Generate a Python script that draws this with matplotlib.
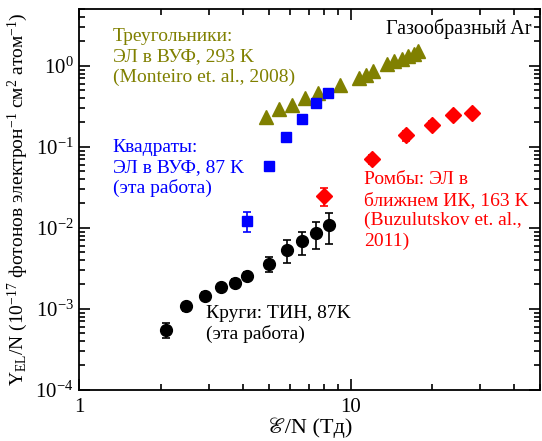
import matplotlib

matplotlib.use("Agg")

import matplotlib.pyplot as plt
from matplotlib.ticker import LogLocator, NullFormatter, LogFormatterMathtext

plt.rcParams["font.family"] = ["Liberation Serif", "STIXGeneral", "DejaVu Serif"]
plt.rcParams["mathtext.fontset"] = "custom"
plt.rcParams["mathtext.rm"] = "Liberation Serif"
plt.rcParams["mathtext.it"] = "Liberation Serif:italic"
plt.rcParams["mathtext.bf"] = "Liberation Serif:bold"

# Circles: TIN, 87 K (this work)
circ_x = [2.09, 2.48, 2.92, 3.34, 3.75, 4.15, 4.99, 5.83, 6.64, 7.47, 8.3]
circ_y = [5.5e-4, 1.07e-3, 1.45e-3, 1.85e-3, 2.1e-3, 2.55e-3, 3.6e-3, 5.4e-3, 6.8e-3, 8.7e-3, 1.08e-2]
circ_err = [1.1e-4, 1.2e-4, 1.5e-4, 1.7e-4, 2.2e-4, 2.8e-4, 7.5e-4, 1.7e-3, 2.2e-3, 3.2e-3, 4.4e-3]

# Squares: EL in VUV, 87 K (this work)
sq_x = [4.15, 4.99, 5.79, 6.64, 7.47, 8.28]
sq_y = [1.22e-2, 5.8e-2, 0.133, 0.218, 0.344, 0.457]
sq_err = [3.3e-3, 5e-3, 0.01, 0.015, 0.02, 0.02]

# Triangles: EL in VUV, 293 K (Monteiro 2008)
tri_x = [4.86, 5.47, 6.1, 6.8, 7.58, 9.12, 10.7, 11.4, 12.1, 13.6, 14.5, 15.4, 16.3, 17.1, 17.7]
tri_y = [0.231, 0.29, 0.33, 0.396, 0.457, 0.578, 0.70, 0.77, 0.86, 1.04, 1.14, 1.23, 1.33, 1.42, 1.53]

# Diamonds: EL in NIR, 163 K (Buzulutskov 2011)
dia_x = [7.99, 11.95, 16.0, 19.9, 23.9, 28.1]
dia_y = [2.47e-2, 7.07e-2, 0.139, 0.186, 0.245, 0.259]
dia_err = [6e-3, 9e-3, 0.02, 0.022, 0.025, 0.025]

OLIVE = "#808000"
BLUE = "#0000ff"
RED = "#ff0000"

fig = plt.figure(figsize=(5.42, 4.41), dpi=100)
ax = fig.add_axes([0.146, 0.116, 0.851, 0.863])

ekw = dict(elinewidth=1.2, capsize=3, capthick=1.2, linestyle="none")
ax.errorbar(circ_x, circ_y, yerr=circ_err, fmt="o", color="black", ms=8.5, **ekw)
ax.errorbar(sq_x, sq_y, yerr=sq_err, fmt="s", color=BLUE, ms=7.5, **ekw)
ax.plot(tri_x, tri_y, "^", color=OLIVE, ms=10, linestyle="none")
ax.errorbar(dia_x, dia_y, yerr=dia_err, fmt="D", color=RED, ms=8, **ekw)

ax.set_xscale("log")
ax.set_yscale("log")
ax.set_xlim(1, 50)
ax.set_ylim(1e-4, 5)

ax.set_xticks([1, 10], ["1", "10"])
ax.xaxis.set_minor_locator(LogLocator(base=10, subs=range(2, 10)))
ax.xaxis.set_minor_formatter(NullFormatter())
ax.yaxis.set_major_locator(LogLocator(base=10, numticks=10))
ax.yaxis.set_major_formatter(LogFormatterMathtext())
ax.yaxis.set_minor_locator(LogLocator(base=10, subs=range(2, 10), numticks=20))
ax.yaxis.set_minor_formatter(NullFormatter())

ax.tick_params(which="both", direction="in", top=True, right=True, labelsize=15, width=1.2)
ax.tick_params(which="major", length=8, pad=6)
ax.tick_params(axis="y", which="major", pad=4)
ax.tick_params(which="minor", length=4.5)
for s in ax.spines.values():
    s.set_linewidth(1.3)

ax.set_xlabel("ℰ/N (Тд)", fontsize=16, labelpad=0)
ax.set_ylabel("Y$_{\\rm EL}$/N (10$^{-17}$ фотонов электрон$^{-1}$ см$^{2}$ атом$^{-1}$)",
              fontsize=14, labelpad=4)

fs = 14
ax.text(0.073, 0.95, "Треугольники:\nЭЛ в ВУФ, 293 K\n(Monteiro et. al., 2008)",
        transform=ax.transAxes, color=OLIVE, fontsize=fs, va="top", linespacing=1.25)
ax.text(0.073, 0.66, "Квадраты:\nЭЛ в ВУФ, 87 K\n(эта работа)",
        transform=ax.transAxes, color=BLUE, fontsize=fs, va="top", linespacing=1.25)
ax.text(0.617, 0.574, "Ромбы: ЭЛ в\nближнем ИК, 163 K\n(Buzulutskov et. al.,\n2011)",
        transform=ax.transAxes, color=RED, fontsize=fs, va="top", linespacing=1.25)
ax.text(0.274, 0.224, "Круги: ТИН, 87K\n(эта работа)",
        transform=ax.transAxes, color="black", fontsize=fs, va="top", linespacing=1.25)
ax.text(0.98, 0.948, "Газообразный Ar", transform=ax.transAxes, color="black",
        fontsize=fs + 0.5, ha="right", va="center")

fig.savefig("out.png", dpi=100)
